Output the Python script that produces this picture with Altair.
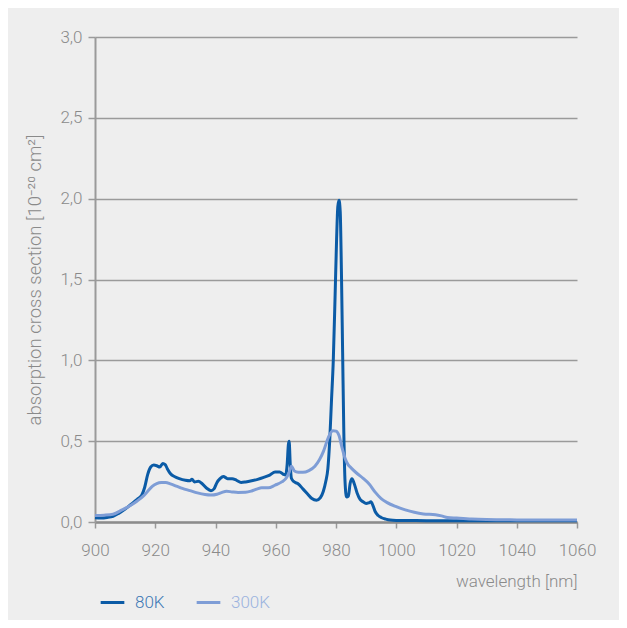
import altair as alt
import pandas as pd

# 80 K absorption cross section
wl_80 = [900, 902, 904, 906, 908, 910, 912, 914, 915.5, 916.5, 917.5, 918.5, 919.5, 920.5, 921.5,
         922.5, 923.3, 924, 925, 926.5, 928, 930, 931.5, 932.2, 933, 934.3, 935.5, 937, 938.5,
         939.5, 940.5, 941.5, 942.6, 944, 945.5, 947, 948.5, 950, 952, 954, 956, 958, 959.8,
         961.3, 962.5, 963.3, 963.8, 964.2, 964.45, 964.8, 965.2, 966, 967.5, 969, 970.5, 972,
         973.5, 974.8, 975.8, 976.6, 977.3, 977.9, 978.5, 979.1, 979.7, 980.2, 980.6, 981.0,
         981.4, 981.8, 982.2, 982.6, 983.0, 983.5, 984.1, 984.7, 985.3, 986, 987, 988, 989, 990,
         990.8, 991.6, 992.3, 993, 994, 995, 996.5, 998, 1000, 1005, 1010, 1020, 1030, 1040,
         1050, 1060]
val_80 = [0.027, 0.025, 0.028, 0.035, 0.055, 0.080, 0.110, 0.140, 0.165, 0.215, 0.295, 0.340,
          0.352, 0.348, 0.340, 0.362, 0.355, 0.330, 0.300, 0.280, 0.268, 0.258, 0.255, 0.265,
          0.248, 0.252, 0.238, 0.210, 0.194, 0.205, 0.245, 0.268, 0.282, 0.268, 0.268, 0.258,
          0.245, 0.248, 0.255, 0.264, 0.276, 0.290, 0.310, 0.310, 0.295, 0.290, 0.360, 0.480,
          0.500, 0.360, 0.270, 0.250, 0.235, 0.205, 0.175, 0.145, 0.135, 0.150, 0.190, 0.250,
          0.330, 0.500, 0.750, 1.000, 1.400, 1.750, 1.950, 1.990, 1.920, 1.550, 1.050, 0.550,
          0.250, 0.155, 0.160, 0.240, 0.268, 0.240, 0.180, 0.140, 0.125, 0.115, 0.118, 0.125,
          0.100, 0.065, 0.040, 0.028, 0.018, 0.012, 0.010, 0.009, 0.008, 0.008, 0.008, 0.008,
          0.008, 0.008]

# 300 K absorption cross section
wl_300 = [900, 903, 906, 909, 912, 914, 916, 917.5, 919, 920.5, 922, 923.5, 925, 927, 929,
          931.5, 934, 936.5, 938.5, 940.5, 942, 943.7, 945.5, 947.5, 950, 952, 953.7, 955.3,
          957.5, 959.8, 962, 963.6, 964.5, 965.2, 966.2, 967.5, 969, 971, 973, 974.5, 975.8,
          977, 978, 979, 980, 981, 982, 983, 984, 985, 987, 989, 991, 993, 995, 997, 1000, 1003,
          1006, 1009, 1013, 1015, 1017, 1020, 1025, 1030, 1040, 1050, 1060]
val_300 = [0.040, 0.042, 0.048, 0.075, 0.105, 0.130, 0.160, 0.190, 0.220, 0.238, 0.244, 0.244,
           0.236, 0.222, 0.208, 0.194, 0.180, 0.170, 0.167, 0.172, 0.182, 0.190, 0.186, 0.183,
           0.184, 0.192, 0.203, 0.212, 0.212, 0.228, 0.248, 0.275, 0.310, 0.345, 0.315, 0.308,
           0.307, 0.318, 0.345, 0.385, 0.435, 0.500, 0.545, 0.565, 0.562, 0.535, 0.460, 0.395,
           0.355, 0.335, 0.300, 0.270, 0.235, 0.185, 0.145, 0.120, 0.095, 0.075, 0.060, 0.050,
           0.045, 0.038, 0.028, 0.024, 0.018, 0.015, 0.013, 0.012, 0.012]

series = ["80K", "300K"]
colors = ["#0b5ba6", "#7e9dd6"]
label_colors = ["#3c78b5", "#9bb3de"]

x_ticks = list(range(900, 1061, 20))
y_ticks = [0, 0.5, 1.0, 1.5, 2.0, 2.5, 3.0]

df80 = pd.DataFrame({"wl": wl_80, "val": val_80, "series": series[0]})
df300 = pd.DataFrame({"wl": wl_300, "val": val_300, "series": series[1]})

FONT = "Roboto, sans-serif"
GRAY = "#8a8a8a"

x_enc = alt.X("wl:Q",
              scale=alt.Scale(domain=[900, 1060], nice=False, zero=False),
              axis=alt.Axis(values=x_ticks, format="d", labelFlush=False,
                            labelOverlap=False,
                            title="wavelength [nm]", titleAnchor="end",
                            grid=False, domainColor="#8c8c8c", domainWidth=2.5,
                            tickColor="#999999", tickWidth=1.5, tickSize=6,
                            labelPadding=14, labelFontSize=17, labelColor=GRAY,
                            labelFontWeight=300,
                            titleFontSize=17, titleColor=GRAY, titleFontWeight=300,
                            titlePadding=15, labelFont=FONT, titleFont=FONT))
y_enc = alt.Y("val:Q",
              scale=alt.Scale(domain=[0, 3.0], nice=False),
              axis=alt.Axis(values=y_ticks,
                            title="absorption cross section [10⁻²⁰ cm²]",
                            labelExpr="replace(format(datum.value, '.1f'), '.', ',')",
                            grid=True, gridColor="#9a9a9a", gridWidth=1.5,
                            domainColor="#9a9a9a", domainWidth=2,
                            tickColor="#9a9a9a", tickWidth=1.5, tickSize=7,
                            labelPadding=6, labelFontSize=17, labelColor=GRAY,
                            labelFontWeight=300,
                            titleFontSize=18.5, titleColor=GRAY, titleFontWeight=300,
                            titlePadding=15, labelFont=FONT, titleFont=FONT))


def layer(df, i, lx):
    return alt.Chart(df).mark_line(strokeWidth=3, interpolate="monotone").encode(
        x=x_enc,
        y=y_enc,
        color=alt.Color("series:N",
                        scale=alt.Scale(domain=[series[i]], range=[colors[i]]),
                        legend=alt.Legend(orient="none", legendX=lx, legendY=552,
                                          title=None, symbolType="stroke",
                                          symbolSize=560, symbolStrokeWidth=3,
                                          labelColor=label_colors[i], labelFontSize=17,
                                          labelFontWeight=300,
                                          labelFont=FONT, labelOffset=9, padding=0)),
    )


chart = alt.layer(layer(df80, 0, 4), layer(df300, 1, 100)).resolve_scale(
    color="independent").resolve_legend(color="independent").properties(
    width=482, height=485,
    autosize=alt.AutoSizeParams(type="none"),
    padding={"left": 87, "top": 29, "right": 42, "bottom": 98},
    background="#eeeeee",
).configure_view(stroke=None)

chart.save("out.html", embed_options={"renderer": "svg", "actions": False})
